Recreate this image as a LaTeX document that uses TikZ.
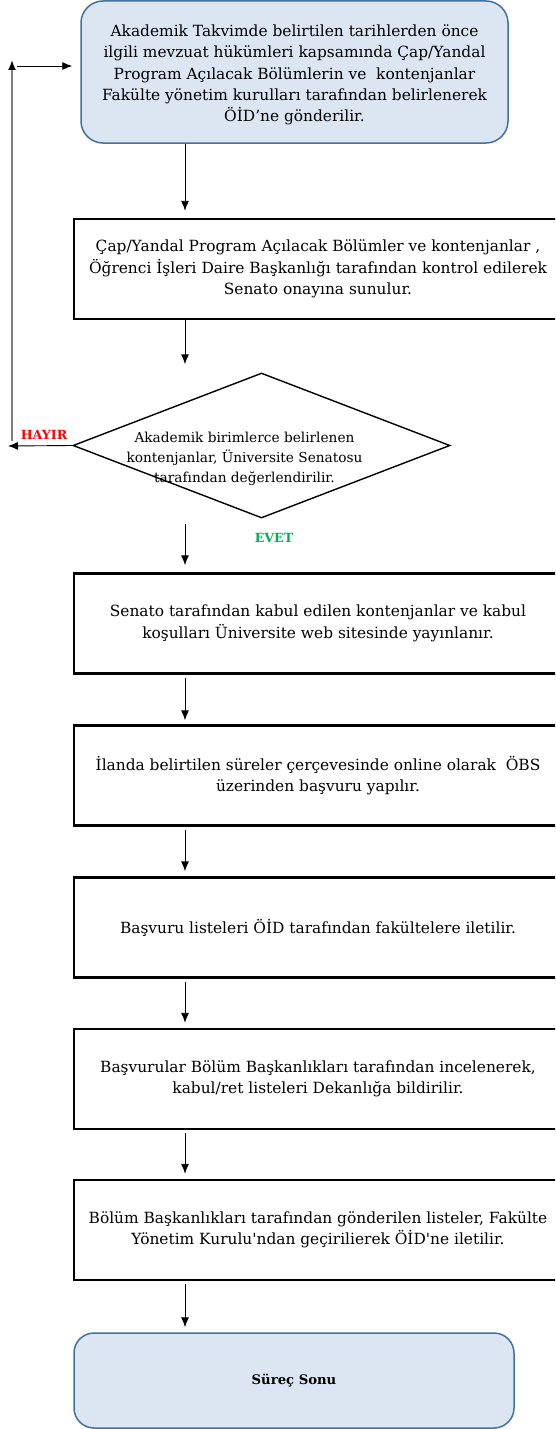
\documentclass[tikz,border=0pt]{standalone}
\usepackage{fontspec}
\setmainfont{DejaVu Serif}
\usetikzlibrary{shapes.geometric,arrows.meta}
\definecolor{boxblue}{HTML}{DCE6F2}
\definecolor{edgeblue}{HTML}{41719C}
\definecolor{hayirred}{HTML}{FF0000}
\definecolor{evetgreen}{HTML}{00B050}
\definecolor{loopgray}{HTML}{7F7F7F}

\begin{document}
\begin{tikzpicture}[x=1pt,y=-1pt,>={Latex[length=10pt,width=8pt]},
  startbox/.style={draw=edgeblue,fill=boxblue,line width=1.5pt,rounded corners=22pt,align=center,inner sep=0pt},
  procbox/.style={draw,line width=2.4pt,minimum width=488pt,minimum height=100pt,align=center,inner sep=0pt},
  decision/.style={draw,diamond,line width=1.4pt,minimum width=377pt,minimum height=145pt,inner sep=0pt},
  boxtext/.style={font=\fontsize{15.4}{21.3}\selectfont},
  diatext/.style={align=center,font=\fontsize{13.7}{20}\selectfont},
  answer/.style={font=\fontsize{12.6}{14}\selectfont\bfseries},
  flow/.style={line width=0.9pt}]
\useasboundingbox (0,0) rectangle (555,1429);
\clip (0,0) rectangle (555,1429);

\node[startbox,boxtext,minimum width=427pt,minimum height=142pt] (start) at (294.5,72) {\rule{0pt}{18pt}Akademik Takvimde belirtilen tarihlerden önce\\ilgili mevzuat hükümleri kapsamında Çap/Yandal\\Program Açılacak Bölümlerin ve\ \ kontenjanlar\\Fakülte yönetim kurulları tarafından belirlenerek\\ÖİD’ne gönderilir.};

\node[procbox,boxtext] (b2) at (318,269) {Çap/Yandal Program Açılacak Bölümler ve kontenjanlar ,\\Öğrenci İşleri Daire Başkanlığı tarafından kontrol edilerek\\Senato onayına sunulur.};

\node[decision] (dec) at (261.5,445.5) {};
\node[diatext] (dectext) at (244.5,459) {Akademik birimlerce belirlenen\\kontenjanlar, Üniversite Senatosu\\tarafından değerlendirilir.};
\node[answer,text=hayirred] (hayir) at (44,435) {HAYIR};
\node[answer,text=evetgreen] (evet) at (274,538) {EVET};

\node[procbox,boxtext] (b3) at (318,623.5) {Senato tarafından kabul edilen kontenjanlar ve kabul\\koşulları Üniversite web sitesinde yayınlanır.};
\node[procbox,boxtext] (b4) at (318,775.5) {İlanda belirtilen süreler çerçevesinde online olarak\ \ ÖBS\\üzerinden başvuru yapılır.};
\node[procbox,boxtext] (b5) at (318,927.5) {Başvuru listeleri ÖİD tarafından fakültelere iletilir.};
\node[procbox,boxtext] (b6) at (318,1079) {Başvurular Bölüm Başkanlıkları tarafından incelenerek,\\kabul/ret listeleri Dekanlığa bildirilir.};
\node[procbox,boxtext] (b7) at (318,1230) {Bölüm Başkanlıkları tarafından gönderilen listeler, Fakülte\\Yönetim Kurulu\textquotesingle ndan geçirilierek ÖİD\textquotesingle ne iletilir.};

\node[startbox,minimum width=440pt,minimum height=95pt,rounded corners=20pt,font=\fontsize{13.2}{15}\selectfont\bfseries] (end) at (294,1380.5) {Süreç Sonu};

\coordinate (ax) at (185,0);
\coordinate (hl) at (8,446);
\coordinate (loopb) at (12,441);
\coordinate (loopt) at (12,60);
\coordinate (fb) at (17,66);

\draw  [flow,->,shorten >=7pt] (start.south -| ax) -- (b2.north -| ax);
\draw  [flow,->,shorten >=8pt] (b2.south -| ax) -- (dec.north -| ax);
\draw  [flow,->,shorten <=5pt,shorten >=7pt] (dec.south -| ax) -- (b3.north -| ax);
\draw  [flow,->,shorten <=3pt,shorten >=4pt] (b3.south -| ax) -- (b4.north -| ax);
\draw  [flow,->,shorten <=3pt,shorten >=5pt] (b4.south -| ax) -- (b5.north -| ax);
\draw  [flow,->,shorten <=3pt,shorten >=5pt] (b5.south -| ax) -- (b6.north -| ax);
\draw  [flow,->,shorten <=3pt,shorten >=5pt] (b6.south -| ax) -- (b7.north -| ax);
\draw  [flow,->,shorten <=3pt,shorten >=5pt] (b7.south -| ax) -- (end.north -| ax);

\draw  [flow,->] (dec.west) -- (hl);
\draw  [line width=1.8pt,draw=loopgray,-{Latex[length=10pt,width=8pt,fill=black,color=black]}] (loopb) -- (loopt);
\draw  [flow,->,shorten >=8pt] (fb) -- (fb -| start.west);

\end{tikzpicture}
\end{document}
